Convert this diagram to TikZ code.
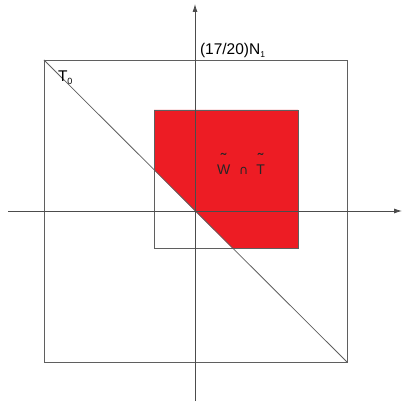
\documentclass[tikz,border=0pt]{standalone}
\usepackage{fontspec}
\setmainfont{Liberation Sans}
\newfontfamily\symsans{DejaVu Sans}
\usetikzlibrary{arrows.meta}
\definecolor{lineg}{RGB}{95,95,95}
\definecolor{redfill}{RGB}{237,28,36}
\newcommand\tldacc[1]{\leavevmode\setbox0\hbox{#1}\rlap{\hbox to\wd0{\hss\raisebox{9.5pt}{\fontsize{17}{17}\selectfont\char"02DC}\hss}}\box0}
\tikzset{
  thinline/.style={draw=lineg, line width=0.8pt},
  axisline/.style={draw=lineg!80!black, line width=0.8pt, -{Latex[length=8pt,width=5pt]}},
  lbl/.style={inner sep=0pt, outer sep=0pt, anchor=base west, font=\fontsize{15.5}{16}\selectfont},
}
\begin{document}
\begin{tikzpicture}[x=1pt,y=-1pt]
\useasboundingbox (0,0) rectangle (402,403);
% corners
\coordinate (BL) at (44,60);
\coordinate (BR) at (347,362);
\coordinate (SA) at (154,110);
\coordinate (SB) at (298,248);
\coordinate (O) at (195,211);
\coordinate (xs) at (8,211);
\coordinate (xe) at (402,211);
\coordinate (ys) at (195,401);
\coordinate (ye) at (195,4);
% red region
\fill[redfill] (154,110) -- (298,110) -- (298,248) -- (232,248) -- (154,170) -- cycle;
% squares
\draw[thinline] (BL) rectangle (BR);
\draw[thinline] (SA) rectangle (SB);
% diagonal
\draw[thinline] (BL) -- (BR);
% axes
\draw[axisline] (xs) -- (xe);
\draw[axisline] (ys) -- (ye);
% labels
\node[lbl] (n1) at (200,55) {(17/20)N\raisebox{-2.5pt}{\fontsize{8.5}{9}\selectfont 1}};
\node[lbl] (t0) at (58,82) {T\raisebox{-3pt}{\fontsize{9}{9}\selectfont 0}};
\node[lbl, font=\fontsize{14}{14}\selectfont, text=black!85] (wt) at (217,175) {\tldacc{W}\hspace{9pt}{\symsans\fontsize{12.5}{12.5}\selectfont ∩}\hspace{8pt}\tldacc{T}};
\end{tikzpicture}
\end{document}
